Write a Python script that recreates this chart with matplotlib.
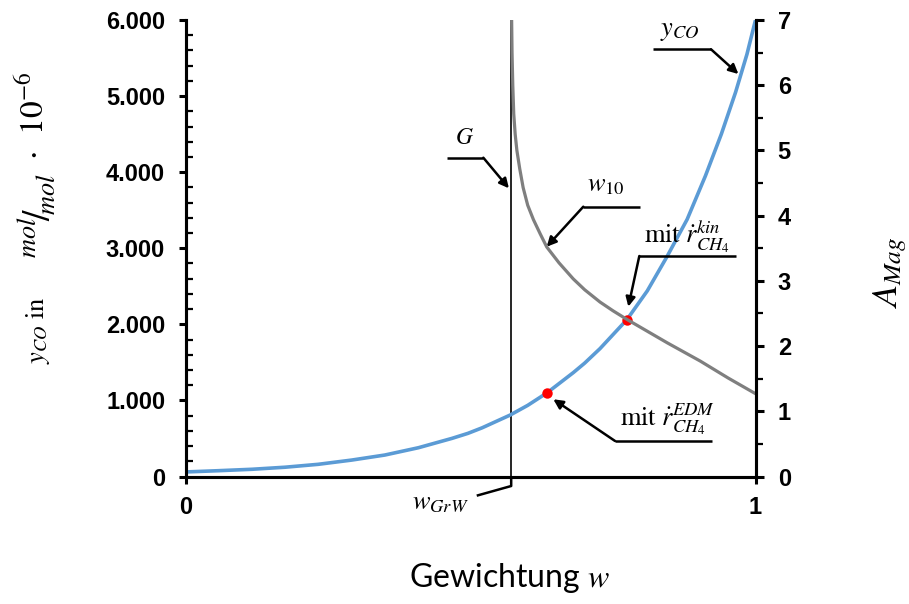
import matplotlib
matplotlib.use("Agg")
import matplotlib.pyplot as plt
from matplotlib.ticker import FixedLocator, MultipleLocator, FuncFormatter

plt.rcParams["mathtext.fontset"] = "stix"
plt.rcParams["font.family"] = ["Liberation Sans", "DejaVu Sans"]

# y_CO over weighting w (mol/mol * 1e-6)
w_yco = [0.0, 0.056, 0.116, 0.174, 0.232, 0.291, 0.349, 0.408, 0.467, 0.495,
         0.52, 0.569, 0.60, 0.634, 0.68, 0.70, 0.727, 0.774, 0.81, 0.844,
         0.88, 0.912, 0.94, 0.965, 0.985, 1.0]
yco = [60, 76, 95, 122, 160, 216, 282, 378, 501, 567,
       640, 807, 935, 1100, 1365, 1490, 1681, 2060, 2440, 2882,
       3380, 3950, 4500, 5050, 5550, 6000]

# A_Mag of w_10 over weighting w
w_amag = [0.5718, 0.5725, 0.5738, 0.5755, 0.578, 0.581, 0.586, 0.592, 0.60,
          0.61, 0.622, 0.6334, 0.655, 0.68, 0.70, 0.727, 0.75, 0.774, 0.845,
          0.903, 0.952, 1.0]
amag = [7.0, 6.5, 6.0, 5.56, 5.25, 5.0, 4.72, 4.43, 4.16,
        3.94, 3.72, 3.52, 3.276, 3.03, 2.864, 2.675, 2.54, 2.41, 2.05,
        1.77, 1.51, 1.27]

# boundary weighting w_GrW
w_grw = 0.571

# operating points
w_edm, yco_edm = 0.634, 1100
w_kin, yco_kin = 0.774, 2060

left_ticks = [0, 1000, 2000, 3000, 4000, 5000, 6000]
right_ticks = [0, 1, 2, 3, 4, 5, 6, 7]
x_ticks = [0, 1]

BLUE = "#5B9BD5"
GRAY = "#7F7F7F"
W, H = 909, 604

fig = plt.figure(figsize=(W / 100, H / 100), dpi=100)
ax = fig.add_axes([186 / W, 1 - 476.5 / H, 569.5 / W, 456.5 / H])
ax2 = ax.twinx()

ax.plot(w_yco, yco, color=BLUE, lw=2.6, zorder=3)
ax2.plot(w_amag, amag, color=GRAY, lw=2.3, zorder=2)
ax.axvline(w_grw, color="black", lw=1.2, zorder=2)
ax.plot([w_edm, w_kin], [yco_edm, yco_kin], "o", color="red", ms=7.5,
        mec="none", zorder=5)

ax.set_xlim(0, 1)
ax.set_ylim(0, 6000)
ax2.set_ylim(0, 7)

for a in (ax, ax2):
    a.spines["top"].set_visible(False)
    for s in ("left", "right", "bottom"):
        a.spines[s].set_linewidth(2.2)
ax.patch.set_visible(False)

ax.xaxis.set_major_locator(FixedLocator(x_ticks))
ax.xaxis.set_major_formatter(FuncFormatter(lambda v, p: f"{v:.0f}"))
ax.tick_params(axis="x", which="major", direction="out", length=5, width=2.2,
               pad=9, labelsize=17)

ax.yaxis.set_major_locator(FixedLocator(left_ticks))
ax.yaxis.set_minor_locator(MultipleLocator(200))
ax.yaxis.set_major_formatter(
    FuncFormatter(lambda v, p: "0" if v == 0 else f"{int(v):,}".replace(",", ".")))
ax.tick_params(axis="y", which="major", direction="out", length=5, width=2.2,
               pad=10, labelsize=17)
ax.tick_params(axis="y", which="minor", direction="in", length=5, width=1.6)

ax2.yaxis.set_major_locator(FixedLocator(right_ticks))
ax2.yaxis.set_minor_locator(MultipleLocator(0.5))
ax2.yaxis.set_major_formatter(FuncFormatter(lambda v, p: f"{v:.0f}"))
ax2.tick_params(axis="y", which="major", direction="out", length=6, width=2.2,
                pad=10, labelsize=17)
ax2.tick_params(axis="y", which="minor", direction="out", length=5, width=1.6)

for lab in (ax.get_xticklabels() + ax.get_yticklabels()
            + ax2.get_yticklabels()):
    lab.set_fontweight("bold")


def fpos(x, y):
    return x / W, 1 - y / H


# left axis title in three rotated pieces so the mol/mol fraction stays large
ylab = dict(rotation=90, rotation_mode="anchor", ha="left", va="baseline")
fig.text(*fpos(44, 364), r"$y_{CO}\ \mathrm{in}$", fontsize=19, **ylab)
fig.text(*fpos(51, 258), r"${}^{mol}\!/\!{}_{mol}$", fontsize=27, **ylab)
fig.text(*fpos(44, 160), r"$\cdot\ \ 10^{-6}$", fontsize=24, **ylab)

fig.text(*fpos(890, 272), r"$A_{Mag}$", rotation=90, ha="center",
         va="center", fontsize=26)
fig.text(*fpos(509, 578), r"Gewichtung $w$", ha="center", va="center",
         fontsize=23, fontfamily="Lato")

# leader-line annotations (left-axis data coordinates)
arrow = dict(arrowstyle="-|>", color="black", lw=1.8, mutation_scale=14,
             shrinkA=0, shrinkB=0)
lead = dict(color="black", lw=1.8, clip_on=False, zorder=6,
            solid_capstyle="butt")
txt = dict(ha="center", va="center", fontsize=19, zorder=6)


def leader(x0, x1, y, tip, label, label_xy, size=19):
    ax.plot([x0, x1], [y, y], **lead)
    ex = x1 if abs(x1 - tip[0]) < abs(x0 - tip[0]) else x0
    ax.annotate("", xy=tip, xytext=(ex, y), arrowprops=arrow,
                annotation_clip=False, zorder=6)
    ax.text(*label_xy, label, **{**txt, "fontsize": size})


leader(0.4578, 0.5221, 4190, (w_grw - 0.004, 3788), r"$G$", (0.4899, 4450),
       size=17)
leader(0.6976, 0.7972, 3546, (0.6334, 3020), r"$w_{10}$", (0.7375, 3830))
leader(0.7960, 0.9658, 2898, (0.7767, 2232),
       r"$\mathrm{mit}\ \dot{r}_{CH_4}^{kin}$", (0.8797, 3150))
leader(0.7533, 0.9231, 467, (0.645, 1015),
       r"$\mathrm{mit}\ \dot{r}_{CH_4}^{EDM}$", (0.8463, 760))
leader(0.8205, 0.9219, 5615, (0.970, 5290), r"$y_{CO}$", (0.8674, 5860))

# w_GrW marker below the axis
ax.plot([0.5105, w_grw, w_grw], [-252, -125, 0], **lead)
ax.text(0.446, -348, r"$w_{GrW}$", **txt)

fig.savefig("out.png", dpi=100)
